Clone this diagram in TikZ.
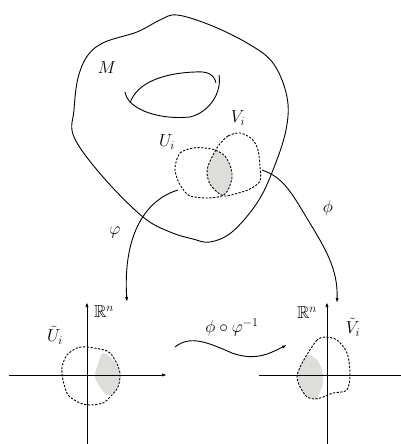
\documentclass[tikz,border=0pt]{standalone}
\usepackage{amsmath,amssymb}
\usetikzlibrary{arrows.meta}
\definecolor{regionfill}{RGB}{221,222,218}
\begin{document}
\begin{tikzpicture}[x=1pt,y=-1pt,
  curve/.style={line width=0.9pt},
  dsh/.style={line width=0.9pt,dash pattern=on 2.2pt off 1.5pt},
  arr/.style={line width=0.9pt,-{Latex[length=5pt,width=3.2pt]}},
  lbl/.style={inner sep=0pt,font=\LARGE}]
\useasboundingbox (0,0) rectangle (401,444);
% manifold
\draw[curve] plot[smooth cycle,tension=0.6] coordinates {(105,42) (137,32) (160,20) (177,15) (210,25) (247,43) (273,63) (287,97) (286,130) (273,170) (257,203) (232,232) (210,242) (193,239) (170,232) (143,217) (103,177) (74,137) (74,110) (78,78) (88,55)};
% hole
\draw[curve] (125,92) .. controls (128,110) and (160,120) .. (190,117) .. controls (210,112) and (222,92) .. (219,75);
\draw[curve] (130,103) .. controls (137,82) and (165,73) .. (195,72) .. controls (207,71) and (214,74) .. (216,83);
% intersection shading
\begin{scope}
\clip plot[smooth cycle] coordinates {(175,167) (180,153) (193,148) (205,148) (215,150) (225,156) (231,168) (232,178) (228,190) (222,196) (207,198) (190,196) (182,188) (177,178)};
\fill[regionfill] plot[smooth cycle] coordinates {(240,133) (228,136) (219,145) (213,155) (208,166) (207,174) (210,184) (217,192) (224,196) (235,194) (250,189) (260,181) (260,167) (258,150) (252,139)};
\end{scope}
\draw[dsh] plot[smooth cycle] coordinates {(175,167) (180,153) (193,148) (205,148) (215,150) (225,156) (231,168) (232,178) (228,190) (222,196) (207,198) (190,196) (182,188) (177,178)};
\draw[dsh] plot[smooth cycle] coordinates {(240,133) (228,136) (219,145) (213,155) (208,166) (207,174) (210,184) (217,192) (224,196) (235,194) (250,189) (260,181) (260,167) (258,150) (252,139)};
% labels top
\node[lbl] (M) at (107,68) {$M$};
\node[lbl] (U) at (167,142) {$U_i$};
\node[lbl] (V) at (238,118) {$V_i$};
% bottom-left chart
\coordinate (LxW) at (9,375);
\coordinate (LxE) at (167,375);
\coordinate (LyS) at (87,444);
\coordinate (LyN) at (87,302);
\fill[regionfill] plot[smooth cycle] coordinates {(103,353) (115,362) (120,375) (118,387) (113,393) (107,395) (100,387) (95,377) (97,367)};
\draw[dsh] plot[smooth cycle] coordinates {(77,348) (87,347) (107,351) (115,360) (120,373) (118,387) (110,397) (103,403) (90,405) (80,403) (68,395) (63,380) (62,367) (67,355)};
\draw[arr] (LxW) -- (LxE);
\draw[arr] (LyS) -- (LyN);
\node[lbl] (R1) at (104,312) {$\mathbb{R}^n$};
\node[lbl] (Ut) at (55,335) {$\tilde{U}_i$};
% bottom-right chart
\coordinate (RxW) at (259,375);
\coordinate (RxE) at (401,375);
\coordinate (RyS) at (327,444);
\coordinate (RyN) at (327,302);
\fill[regionfill] plot[smooth cycle] coordinates {(308,355) (317,360) (322,370) (323,383) (318,397) (315,399) (307,397) (300,387) (297,375) (302,363)};
\draw[dsh] plot[smooth cycle] coordinates {(325,337) (317,340) (308,353) (300,367) (297,377) (300,387) (307,397) (315,399) (323,397) (333,393) (347,390) (350,373) (347,353) (337,340)};
\draw[line width=0.9pt] (RxW) -- (RxE);
\draw[arr] (RyS) -- (RyN);
\node[lbl] (R2) at (307,313) {$\mathbb{R}^n$};
\node[lbl] (Vt) at (353,327) {$\tilde{V}_i$};
% maps
\coordinate (ps) at (178,190);
\coordinate (pe) at (127,302);
\draw[arr] (ps) .. controls (142,201) and (123,240) .. (pe);
\node[lbl] (phl) at (115,232) {$\varphi$};
\coordinate (qs) at (262,170);
\coordinate (qe) at (337,303);
\draw[arr] (qs) .. controls (282,177) and (290,190) .. (305,215) .. controls (325,248) and (338,268) .. (qe);
\node[lbl] (qhl) at (328,208) {$\phi$};
\coordinate (ts) at (175,347);
\coordinate (te) at (287,345);
\draw[arr] (ts) .. controls (190,335) and (207,342) .. (232,353) .. controls (257,362) and (272,352) .. (te);
\node[lbl] (tl) at (232,327) {$\phi\circ\varphi^{-1}$};
\end{tikzpicture}
\end{document}
